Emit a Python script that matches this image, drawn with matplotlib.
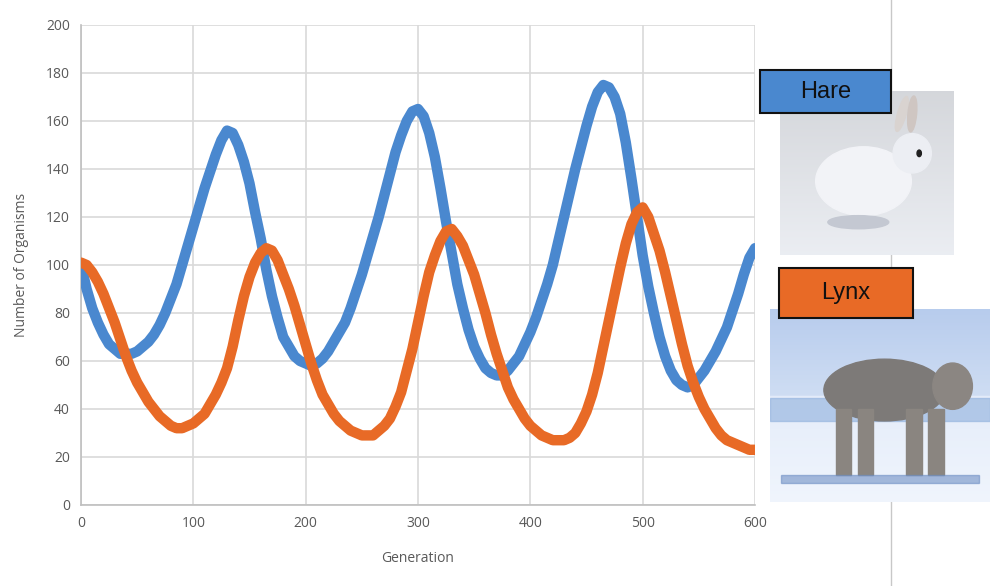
import numpy as np
import matplotlib
matplotlib.use('Agg')
import matplotlib.pyplot as plt
from matplotlib.patches import Rectangle, Ellipse
from matplotlib.lines import Line2D

# Predator / prey populations, read every 5 generations
generation = list(range(0, 601, 5))

hare = [100, 90, 82, 76, 71, 67, 65, 63, 63, 63,      # 0-45
        64, 66, 68, 71, 75, 80, 86, 92, 100, 108,     # 50-95
        116, 124, 132, 139, 146, 152, 156, 155, 150, 143,   # 100-145
        134, 122, 111, 98, 87, 78, 70, 66, 62, 60,    # 150-195
        59, 58, 59, 61, 64, 68, 72, 76, 82, 89,       # 200-245
        96, 104, 112, 120, 129, 138, 147, 154, 160, 164,    # 250-295
        165, 162, 155, 145, 132, 118, 105, 92, 82, 73,      # 300-345
        66, 61, 57, 55, 54, 54, 56, 59, 62, 67,       # 350-395
        72, 78, 85, 92, 100, 110, 120, 130, 140, 149,       # 400-445
        158, 166, 172, 175, 174, 170, 163, 151, 136, 120,   # 450-495
        104, 91, 80, 70, 62, 56, 52, 50, 49, 50,      # 500-545
        53, 56, 60, 64, 69, 74, 81, 88, 96, 103,      # 550-595
        107]                                          # 600

lynx = [101, 100, 97, 93, 88, 82, 76, 69, 62, 56,     # 0-45
        51, 47, 43, 40, 37, 35, 33, 32, 32, 33,       # 50-95
        34, 36, 38, 42, 46, 51, 57, 66, 77, 87,       # 100-145
        95, 101, 105, 107, 106, 102, 96, 90, 83, 75,  # 150-195
        67, 59, 52, 46, 42, 38, 35, 33, 31, 30,       # 200-245
        29, 29, 29, 31, 33, 36, 41, 47, 56, 65,       # 250-295
        76, 87, 97, 104, 110, 114, 115, 112, 108, 102,      # 300-345
        96, 88, 80, 71, 63, 56, 49, 44, 40, 36,       # 350-395
        33, 31, 29, 28, 27, 27, 27, 28, 30, 34,       # 400-445
        39, 46, 55, 66, 77, 88, 99, 109, 117, 122,    # 450-495
        124, 120, 113, 106, 97, 87, 77, 67, 58, 51,   # 500-545
        45, 40, 36, 32, 29, 27, 26, 25, 24, 23,       # 550-595
        23]                                           # 600

x_ticks = [0, 100, 200, 300, 400, 500, 600]
y_ticks = [0, 20, 40, 60, 80, 100, 120, 140, 160, 180, 200]

hare_color = '#4a88cf'
lynx_color = '#e86a26'
text_gray = '#595959'
grid_gray = '#d9d9d9'

plt.rcParams['font.family'] = ['Open Sans', 'DejaVu Sans']

fig = plt.figure(figsize=(9.9, 5.86), dpi=100)
W, H = 990.0, 586.0


def px_axes(x0, y0, x1, y1, **kw):
    # axes placed by pixel box (top-left origin)
    return fig.add_axes([x0 / W, 1 - y1 / H, (x1 - x0) / W, (y1 - y0) / H], **kw)


# slide divider line on the right, behind the photos
fig.add_artist(Line2D([891 / W, 891 / W], [0, 1], color='#c8c8c8', lw=1.0,
                      zorder=-1))

ax = px_axes(81, 25, 755, 505)
ax.plot(generation, hare, color=hare_color, lw=7.5, solid_capstyle='round',
        solid_joinstyle='round', zorder=3)
ax.plot(generation, lynx, color=lynx_color, lw=7.5, solid_capstyle='round',
        solid_joinstyle='round', zorder=4)

ax.set_xlim(0, 600)
ax.set_ylim(0, 200)
ax.set_xticks(x_ticks)
ax.set_yticks(y_ticks)
ax.grid(True, color=grid_gray, lw=1.2)
ax.set_axisbelow(True)
for s in ['top', 'right']:
    ax.spines[s].set_visible(False)
for s in ['left', 'bottom']:
    ax.spines[s].set_color('#bfbfbf')
    ax.spines[s].set_linewidth(1.2)
ax.tick_params(length=0, colors=text_gray, labelsize=10, pad=8)
ax.set_xlabel('Generation', color=text_gray, fontsize=10, labelpad=14)
ax.set_ylabel('Number of Organisms', color=text_gray, fontsize=10, labelpad=12)

# photo stand-ins: hare on snow
hax = px_axes(780, 91, 954, 255)
snow = np.linspace(0.86, 0.95, 100)[:, None] * np.ones((1, 100))
hax.imshow(np.dstack([snow * 0.97, snow * 0.98, snow]), extent=[0, 1, 0, 1],
           aspect='auto')
hax.add_patch(Ellipse((0.48, 0.45), 0.55, 0.42, color='#f2f3f7'))
hax.add_patch(Ellipse((0.76, 0.62), 0.22, 0.24, color='#eceef3'))
hax.add_patch(Ellipse((0.70, 0.86), 0.05, 0.22, angle=-15, color='#d9d3d0'))
hax.add_patch(Ellipse((0.76, 0.86), 0.05, 0.22, angle=-5, color='#cfc6c2'))
hax.add_patch(Ellipse((0.80, 0.62), 0.025, 0.04, color='#202020'))
hax.add_patch(Ellipse((0.45, 0.20), 0.35, 0.08, color='#c4c8d2'))
hax.set_xlim(0, 1)
hax.set_ylim(0, 1)
hax.axis('off')

# photo stand-ins: lynx on snow
lax = px_axes(770, 309, 990, 502)
t = np.linspace(0, 1, 100)[:, None]
r = np.where(t < 0.45, 0.72 + 0.2 * t, 0.86 + 0.08 * t) * np.ones((1, 100))
g = np.where(t < 0.45, 0.80 + 0.15 * t, 0.90 + 0.06 * t) * np.ones((1, 100))
b = np.where(t < 0.45, 0.93 + 0.05 * t, 0.97 + 0.02 * t) * np.ones((1, 100))
lax.imshow(np.dstack([r, g, b]), extent=[0, 1, 0, 1], aspect='auto')
lax.add_patch(Rectangle((0, 0.42), 1, 0.12, color='#8fb0dc', alpha=0.6))
lax.add_patch(Ellipse((0.52, 0.58), 0.55, 0.32, color='#7d7a78'))
lax.add_patch(Ellipse((0.83, 0.60), 0.18, 0.24, color='#8b8682'))
for lx in [0.30, 0.40, 0.62, 0.72]:
    lax.add_patch(Rectangle((lx, 0.14), 0.07, 0.34, color='#8a8580'))
lax.add_patch(Rectangle((0.05, 0.10), 0.9, 0.04, color='#6f8fc4', alpha=0.6))
lax.set_xlim(0, 1)
lax.set_ylim(0, 1)
lax.axis('off')

# species name boxes
for name, color, box in [('Hare', hare_color, (760, 70, 891, 113)),
                         ('Lynx', lynx_color, (779, 268, 913, 318))]:
    x0, y0, x1, y1 = box
    fig.add_artist(Rectangle((x0 / W, 1 - y1 / H), (x1 - x0) / W, (y1 - y0) / H,
                             facecolor=color, edgecolor='#111111', lw=1.5,
                             transform=fig.transFigure, zorder=10))
    fig.text((x0 + x1) / 2 / W, 1 - (y0 + y1) / 2 / H, name, ha='center',
             va='center', fontsize=17, family=['Liberation Sans', 'DejaVu Sans'],
             color='#111111', zorder=11)

fig.savefig('out.png', dpi=100)
